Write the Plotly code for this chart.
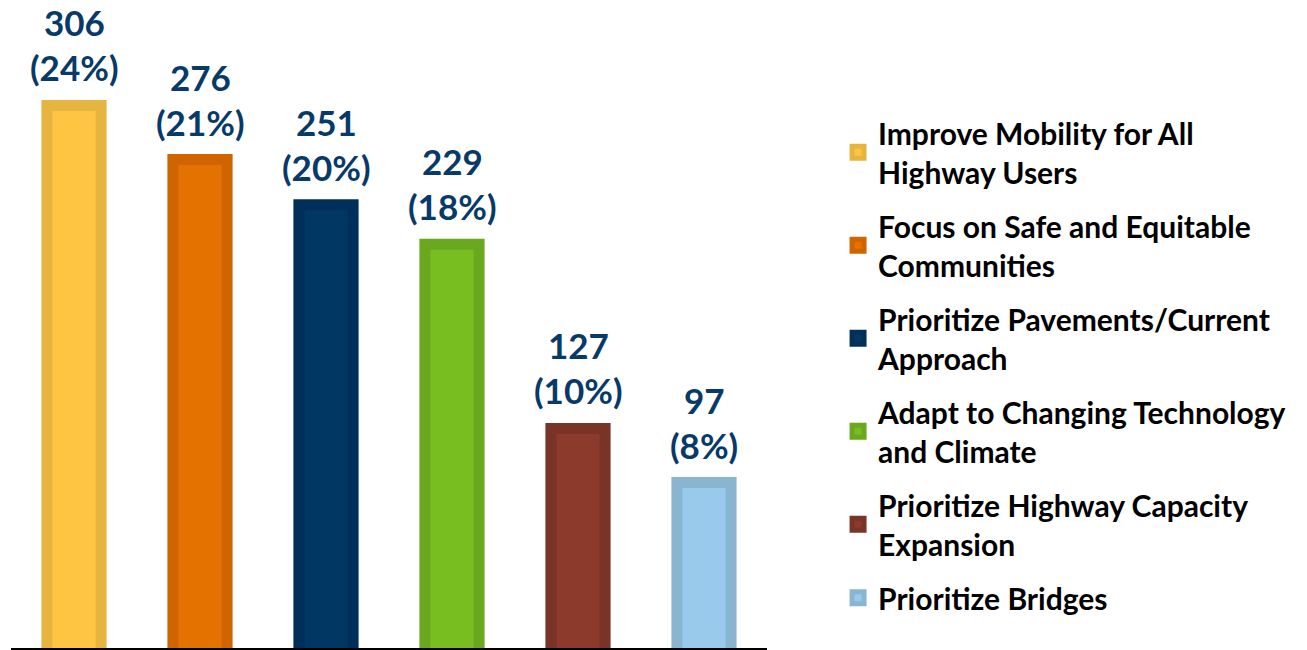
import plotly.graph_objects as go

categories = [
    "Improve Mobility for All<br>Highway Users",
    "Focus on Safe and Equitable<br>Communities",
    "Prioritize Pavements/Current<br>Approach",
    "Adapt to Changing Technology<br>and Climate",
    "Prioritize Highway Capacity<br>Expansion",
    "Prioritize Bridges",
]
votes = [306, 276, 251, 229, 127, 97]
shares = [24, 21, 20, 18, 10, 8]
fill_colors = ["#FEC542", "#E47200", "#003763", "#78BE20", "#8B3A2B", "#9ACAEB"]
edge_colors = ["#E6B540", "#D06400", "#00305A", "#6AA81F", "#7A3327", "#8AB5D0"]

label_font = {"family": "Lato", "size": 35, "color": "#073A68", "weight": "bold"}

fig = go.Figure()
for i, name in enumerate(categories):
    fig.add_trace(
        go.Bar(
            x=[i],
            y=[votes[i]],
            name=name,
            width=0.43,
            marker={"color": fill_colors[i], "line": {"color": edge_colors[i], "width": 11}},
            legendgroup=f"g{i}",
        )
    )
    # count and share as two stacked labels above each bar
    fig.add_annotation(
        x=i, y=votes[i], text=f"({shares[i]}%)",
        showarrow=False, yanchor="bottom", yshift=15, font=label_font,
    )
    fig.add_annotation(
        x=i, y=votes[i], text=str(votes[i]),
        showarrow=False, yanchor="bottom", yshift=60, font=label_font,
    )

# page body adds an 8px margin, so the figure is sized to fit inside the window
fig.update_layout(
    width=1299,
    height=642,
    margin={"l": 3, "r": 540, "t": 0, "b": 2, "autoexpand": False},
    barmode="overlay",
    plot_bgcolor="white",
    paper_bgcolor="white",
    showlegend=True,
    legend={
        "xref": "container",
        "yref": "container",
        "x": 0.639,
        "y": 0.846,
        "xanchor": "left",
        "yanchor": "top",
        "font": {"family": "Lato", "size": 30, "color": "black", "weight": "bold"},
        "tracegroupgap": 12,
        "itemwidth": 30,
        "maxheight": 600,
    },
)
fig.update_xaxes(
    range=[-0.5, 5.5],
    showticklabels=False,
    ticks="",
    showgrid=False,
    zeroline=False,
    showline=True,
    linecolor="black",
    linewidth=2,
    layer="above traces",
    automargin=False,
)
fig.update_yaxes(
    range=[5.27, 360.0],
    showticklabels=False,
    showgrid=False,
    zeroline=False,
    automargin=False,
)

fig.write_html("out.html")
